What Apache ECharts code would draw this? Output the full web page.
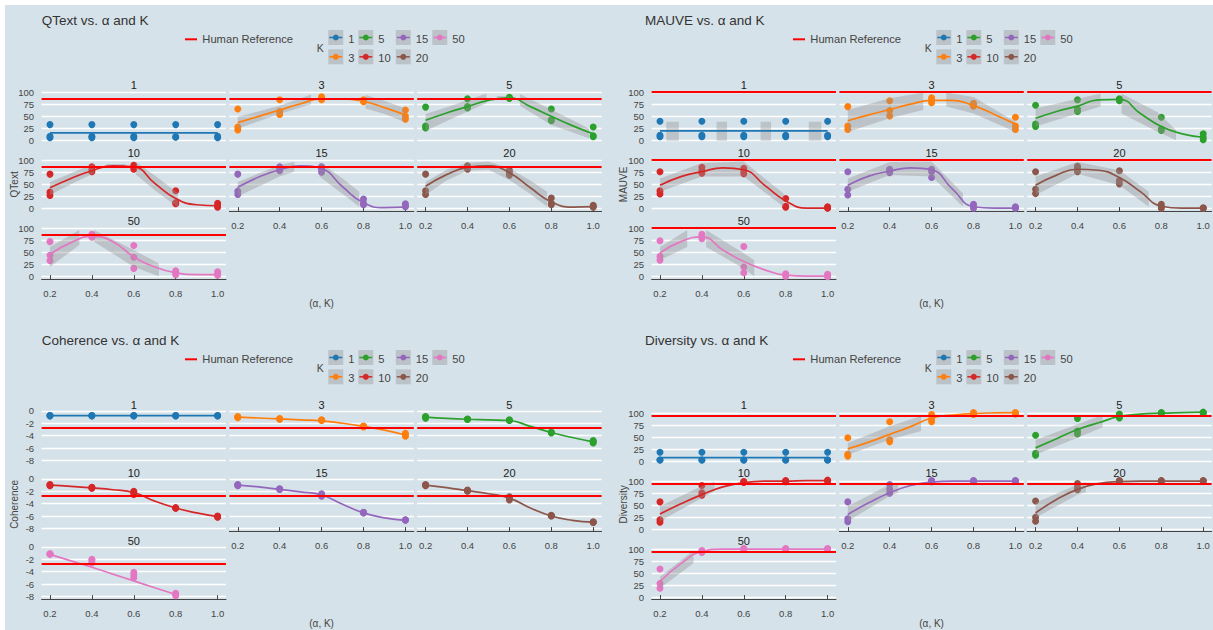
<!DOCTYPE html>
<html>
<head>
<meta charset="utf-8">
<script src="https://cdn.jsdelivr.net/npm/echarts@6/dist/echarts.min.js"></script>
<style>
  html, body { margin: 0; padding: 0; background: #ffffff; }
  #bg { position: absolute; left: 5px; top: 5px; width: 1208px; height: 625px; background: #d6e2e9; }
  #chart { position: absolute; left: 0; top: 0; width: 1213px; height: 630px; }
</style>
</head>
<body>
<div id="bg"></div>
<div id="chart"></div>
<script>
// ---- shared axes / levels ----
const alphaTicks = [0.2, 0.4, 0.6, 0.8, 1.0];
const curveAlphas = [0.2, 0.3, 0.4, 0.5, 0.6, 0.7, 0.8, 0.9, 1.0];
const kLevels = ['1', '3', '5', '10', '15', '20', '50'];
const kColors = ['#1f77b4', '#ff7f0e', '#2ca02c', '#d62728', '#9467bd', '#8c564b', '#e377c2'];
const percentTicks = [0, 25, 50, 75, 100];
const coherenceTicks = [-8, -6, -4, -2, 0];

// ---- QText ----
const qtextHumanRef = 87;
const qtextRange = [-5, 105];
// per K, per alpha: replicate scores
const qtextPoints = [
  [[33, 9, 6], [33, 9, 6], [33, 9, 6], [33, 8, 7], [33, 9, 6]],
  [[65, 28, 22], [84, 60, 54], [90, 87, 84], [84, 82, 80], [63, 50, 44]],
  [[69, 30, 26], [86, 70, 67], [89, 88, 87], [65, 43, 41], [28, 10, 8]],
  [[71, 34, 27], [86, 80, 76], [89, 85, 81], [37, 12, 10], [11, 6, 3]],
  [[71, 36, 29], [86, 83, 78], [86, 81, 75], [20, 11, 8], [10, 6, 4]],
  [[71, 37, 29], [88, 85, 81], [79, 74, 69], [22, 11, 8], [7, 5, 3]],
  [[72, 44, 33], [87, 84, 81], [64, 40, 17], [12, 8, 4], [10, 5, 3]]
];
// smoothed trend at curveAlphas
const qtextCurves = [
  [16, 16, 16, 16, 16, 16, 16, 16, 16],
  [37, 50, 63, 76, 86, 86, 81, 68, 53],
  [42, 57, 70, 83, 88, 70, 50, 31, 14],
  [43, 62, 78, 88, 86, 52, 21, 8, 6],
  [44, 65, 80, 88, 82, 45, 12, 2, 3],
  [46, 70, 85, 88, 74, 43, 14, 3, 4],
  [46, 70, 83, 72, 41, 20, 8, 4, 4]
];
// confidence ribbons: segments of [alpha, lower, upper]
const qtextBands = [
  [],
  [[[0.2, 25, 49], [0.4, 55, 72], [0.55, 75, 95]], [[0.81, 66, 94], [0.9, 55, 82], [1.0, 38, 66]]],
  [[[0.2, 20, 55], [0.35, 50, 76], [0.49, 77, 97]], [[0.54, 86, 92], [0.6, 86, 92]], [[0.65, 72, 96], [0.8, 32, 64], [0.98, 5, 25]]],
  [[[0.2, 28, 55], [0.3, 50, 73], [0.41, 73, 93]], [[0.47, 86, 92], [0.56, 86, 92]], [[0.61, 70, 96], [0.7, 38, 68], [0.81, 3, 32]]],
  [[[0.2, 25, 55], [0.4, 66, 90], [0.47, 76, 96]], [[0.59, 66, 96], [0.7, 30, 62], [0.78, 4, 35]]],
  [[[0.2, 28, 55], [0.3, 58, 80], [0.4, 78, 94], [0.5, 80, 97], [0.6, 59, 83], [0.7, 30, 58], [0.78, 4, 35]]],
  [[[0.2, 20, 61], [0.34, 65, 96]], [[0.41, 72, 96], [0.6, 20, 55], [0.72, 1, 27]]]
];

// ---- MAUVE ----
const mauveHumanRef = 100;
const mauveRange = [-5, 105];
const mauvePoints = [
  [[40, 11, 8], [40, 11, 8], [40, 11, 8], [40, 11, 8], [40, 11, 8]],
  [[70, 30, 23], [82, 62, 51], [88, 84, 78], [77, 74, 71], [48, 30, 23]],
  [[73, 34, 29], [84, 65, 60], [86, 84, 82], [48, 24, 21], [14, 7, 2]],
  [[76, 37, 30], [85, 79, 73], [83, 77, 72], [21, 5, 3], [4, 2, 1]],
  [[76, 40, 28], [81, 78, 74], [81, 76, 64], [9, 4, 1], [4, 2, 1]],
  [[76, 40, 31], [87, 83, 76], [78, 58, 51], [9, 4, 1], [2, 1, 1]],
  [[74, 42, 34], [87, 83, 78], [62, 20, 8], [6, 3, 1], [5, 2, 0]]
];
const mauveCurves = [
  [20, 20, 20, 20, 20, 20, 20, 20, 20],
  [41, 53, 64, 75, 83, 83, 72, 54, 34],
  [46, 60, 71, 84, 85, 56, 29, 14, 7],
  [48, 66, 76, 84, 80, 48, 16, 1, 1],
  [48, 67, 77, 84, 80, 40, 4, 1, 1],
  [48, 69, 81, 79, 64, 35, 5, 1, 1],
  [49, 72, 82, 55, 31, 14, 3, 1, 1]
];
const mauveBands = [
  [[[0.23, 0, 39], [0.29, 0, 39]], [[0.47, 0, 39], [0.52, 0, 39]], [[0.68, 0, 39], [0.73, 0, 39]], [[0.91, 0, 39], [0.97, 0, 39]]],
  [[[0.2, 18, 63], [0.4, 46, 87], [0.56, 63, 99]], [[0.67, 70, 99], [0.8, 56, 90], [1.0, 18, 39]]],
  [[[0.2, 29, 66], [0.51, 70, 97]], [[0.61, 56, 97], [0.78, 19, 59], [0.87, 1, 22]]],
  [[[0.2, 35, 62], [0.4, 66, 94], [0.6, 66, 97], [0.79, 4, 31]]],
  [[[0.2, 35, 62], [0.4, 69, 96], [0.6, 66, 97], [0.75, 4, 31]]],
  [[[0.2, 28, 66], [0.4, 72, 96], [0.6, 48, 79], [0.74, 4, 35]]],
  [[[0.2, 34, 61], [0.33, 61, 96]], [[0.42, 61, 96], [0.6, 17, 48], [0.65, 1, 34]]]
];

// ---- Coherence ----
const coherenceHumanRef = -2.8;
const coherenceRange = [-8.44, 0.21];
const coherencePoints = [
  [[-0.75, -0.78, -0.8], [-0.75, -0.78, -0.8], [-0.75, -0.78, -0.8], [-0.75, -0.78, -0.8], [-0.75, -0.78, -0.8]],
  [[-0.9, -1.0, -1.1], [-1.25, -1.3, -1.35], [-1.45, -1.5, -1.55], [-2.45, -2.5, -2.6], [-3.6, -3.9, -4.1]],
  [[-0.9, -1.0, -1.2], [-1.3, -1.35, -1.4], [-1.45, -1.5, -1.55], [-3.45, -3.5, -3.55], [-4.8, -5.0, -5.2]],
  [[-0.9, -1.0, -1.1], [-1.35, -1.45, -1.5], [-2.0, -2.2, -2.5], [-4.65, -4.7, -4.75], [-6.0, -6.1, -6.2]],
  [[-0.9, -1.0, -1.1], [-1.6, -1.65, -1.7], [-2.4, -2.6, -2.8], [-5.4, -5.45, -5.5], [-6.6, -6.65, -6.7]],
  [[-0.9, -1.0, -1.1], [-1.8, -1.9, -2.0], [-2.9, -3.1, -3.4], [-5.9, -5.95, -6.0], [-6.95, -7.0, -7.05]],
  [[-1.1, -1.15, -1.2], [-2.0, -2.3, -2.6], [-4.1, -4.5, -5.0], [-7.5, -7.7, -7.9], []]
];
const coherenceCurves = [
  [-0.78, -0.78, -0.78, -0.78, -0.78, -0.78, -0.78, -0.78, -0.78],
  [-1.0, -1.15, -1.3, -1.45, -1.6, -2.0, -2.5, -3.1, -3.9],
  [-1.0, -1.2, -1.35, -1.45, -1.55, -2.5, -3.5, -4.3, -5.0],
  [-1.0, -1.2, -1.45, -1.75, -2.2, -3.6, -4.7, -5.5, -6.1],
  [-1.0, -1.3, -1.7, -2.1, -2.6, -4.1, -5.5, -6.3, -6.7],
  [-1.0, -1.4, -1.9, -2.4, -3.1, -4.7, -6.0, -6.7, -7.0],
  [-1.2, -2.25, -3.3, -4.4, -5.5, -6.6, -7.7, null, null]
];
const coherenceBands = [[], [], [], [], [], [], []];

// ---- Diversity ----
const diversityHumanRef = 94.5;
const diversityRange = [-3.5, 107.3];
const diversityPoints = [
  [[19, 3, 3], [19, 3, 3], [19, 3, 3], [19, 3, 3], [19, 3, 3]],
  [[49, 15, 11], [82, 45, 41], [97, 88, 82], [101, 99, 97], [101, 100, 98]],
  [[54, 17, 13], [89, 63, 57], [98, 93, 90], [101, 100, 100], [102, 101, 100]],
  [[57, 20, 15], [91, 76, 71], [99, 98, 97], [101, 100, 99], [102, 101, 100]],
  [[57, 22, 16], [93, 83, 75], [101, 100, 99], [101, 100, 100], [101, 100, 100]],
  [[59, 25, 17], [95, 87, 82], [101, 100, 100], [101, 100, 100], [101, 100, 100]],
  [[59, 29, 19], [97, 95, 93], [101, 100, 100], [101, 100, 100], [101, 100, 100]]
];
const diversityCurves = [
  [8, 8, 8, 8, 8, 8, 8, 8, 8],
  [26, 40, 56, 72, 90, 96, 99, 100.5, 101],
  [28, 47, 66, 80, 93, 98, 100, 101, 102],
  [32, 53, 72, 88, 97, 100, 100, 101, 101],
  [31, 55, 76, 91, 98, 100, 100, 100, 100],
  [34, 62, 83, 95, 99, 100, 100, 100, 100],
  [33, 70, 95, 100, 100, 100, 100, 100, 100]
];
const diversityBands = [
  [],
  [[[0.2, 14, 38], [0.4, 45, 73], [0.55, 63, 94]]],
  [[[0.2, 14, 45], [0.4, 49, 77], [0.52, 71, 96]]],
  [[[0.2, 17, 48], [0.4, 65, 90], [0.46, 79, 99]]],
  [[[0.2, 17, 48], [0.4, 69, 93], [0.44, 76, 96]]],
  [[[0.2, 24, 55], [0.4, 72, 93], [0.44, 77, 98]]],
  [[[0.2, 19, 43], [0.36, 71, 97]]]
];

// ---- figure blocks (one per metric) ----
const metrics = [
  { title: 'QText vs. α and K', yTitle: 'QText', points: qtextPoints, curves: qtextCurves, bands: qtextBands, ref: qtextHumanRef, range: qtextRange, ticks: percentTicks, bx: 0, by: 0 },
  { title: 'MAUVE vs. α and K', yTitle: 'MAUVE', points: mauvePoints, curves: mauveCurves, bands: mauveBands, ref: mauveHumanRef, range: mauveRange, ticks: percentTicks, bx: 1, by: 0 },
  { title: 'Coherence vs. α and K', yTitle: 'Coherence', points: coherencePoints, curves: coherenceCurves, bands: coherenceBands, ref: coherenceHumanRef, range: coherenceRange, ticks: coherenceTicks, bx: 0, by: 1 },
  { title: 'Diversity vs. α and K', yTitle: 'Diversity', points: diversityPoints, curves: diversityCurves, bands: diversityBands, ref: diversityHumanRef, range: diversityRange, ticks: percentTicks, bx: 1, by: 1 }
];

// layout
const FONT = '"Liberation Sans", Arial, sans-serif';
const TEXT = '#444444';
const BAND_FILL = 'rgba(150,150,150,0.4)';
const FACET_W = 184.4, FACET_H = 53.5, COL_STEP = 187.8, ROW_STEP = 68;
const PLOT_X0 = [41.6, 651.6], PLOT_Y0 = [89.6, 409.6];
const TITLE_X = [41.7, 645], BLOCK_DY = 320, LEGEND_DX = 608;
const YTITLE_X = [14, 623.5];
const LEG_BOX_X = [328.3, 358.3, 395.8, 432.3], LEG_BOX_Y = [30, 49.3];
// legend slots (column-major, two rows)
const legendSlots = [[0, 0], [0, 1], [1, 0], [1, 1], [2, 0], [2, 1], [3, 0]];
// the lowest facet in each column carries the x axis
const xAxisFacets = [4, 5, 6];

const grids = [], xAxes = [], yAxes = [], series = [], graphics = [];

function txt(x, y, text, size, align, vAlign, color, extra) {
  return Object.assign({
    type: 'text', x: x, y: y, silent: true,
    style: { text: text, fill: color || TEXT, font: size + 'px ' + FONT, textAlign: align, textVerticalAlign: vAlign }
  }, extra || {});
}

metrics.forEach(function (mt, m) {
  const dy = mt.by * BLOCK_DY;
  // titles and axis titles
  graphics.push(txt(TITLE_X[mt.bx], 20.5 + dy, mt.title, 13.5, 'left', 'middle', '#333'));
  graphics.push(txt(YTITLE_X[mt.bx], 184.4 + dy, mt.yTitle, 10, 'center', 'middle', TEXT, { rotation: Math.PI / 2 }));
  graphics.push(txt(PLOT_X0[mt.bx] + COL_STEP + FACET_W / 2, 303.3 + dy, '(α, K)', 10, 'center', 'middle'));

  // legend: human reference
  const lx = mt.bx * LEGEND_DX;
  graphics.push({ type: 'line', silent: true, shape: { x1: 185 + lx, y1: 39.3 + dy, x2: 197 + lx, y2: 39.3 + dy }, style: { stroke: '#ff0000', lineWidth: 2 } });
  graphics.push(txt(202.3 + lx, 39.3 + dy, 'Human Reference', 11.2, 'left', 'middle'));
  // legend: K
  graphics.push(txt(316.7 + lx, 48 + dy, 'K', 10.5, 'left', 'middle'));
  kLevels.forEach(function (k, i) {
    const bx = LEG_BOX_X[legendSlots[i][0]] + lx, by = LEG_BOX_Y[legendSlots[i][1]] + dy;
    graphics.push({ type: 'rect', silent: true, shape: { x: bx, y: by, width: 15, height: 15 }, style: { fill: BAND_FILL } });
    graphics.push({ type: 'line', silent: true, shape: { x1: bx + 1, y1: by + 7.5, x2: bx + 14, y2: by + 7.5 }, style: { stroke: kColors[i], lineWidth: 1.5 } });
    graphics.push({ type: 'circle', silent: true, shape: { cx: bx + 7.5, cy: by + 7.5, r: 3 }, style: { fill: kColors[i] } });
    graphics.push(txt(bx + 20, by + 8.5, k, 11.2, 'left', 'middle'));
  });

  // facets
  kLevels.forEach(function (k, f) {
    const gi = m * 7 + f;
    const row = Math.floor(f / 3), col = f % 3;
    const left = PLOT_X0[mt.bx] + col * COL_STEP;
    const top = PLOT_Y0[mt.by] + row * ROW_STEP;
    const xOn = xAxisFacets.indexOf(f) >= 0;
    grids.push({ left: left, top: top, width: FACET_W, height: FACET_H, containLabel: false });
    graphics.push(txt(left + FACET_W / 2, top - 4.3, k, 11, 'center', 'middle', '#222'));

    xAxes.push({
      gridIndex: gi, type: 'value', min: 0.16, max: 1.04,
      splitLine: { show: false },
      axisLine: { show: xOn, onZero: false, lineStyle: { color: '#444', width: 1 } },
      axisTick: { show: xOn, inside: true, length: 4, customValues: alphaTicks, lineStyle: { color: '#444' } },
      axisLabel: { show: xOn, customValues: alphaTicks, formatter: function (v) { return v.toFixed(1); }, fontSize: 9.5, fontFamily: FONT, color: TEXT, margin: 9 }
    });
    yAxes.push({
      gridIndex: gi, type: 'value', min: mt.range[0], max: mt.range[1],
      axisLine: { show: false },
      axisTick: { show: false, customValues: mt.ticks },
      axisLabel: { show: col === 0, customValues: mt.ticks, fontSize: 9.5, fontFamily: FONT, color: TEXT, margin: 7.5 },
      splitLine: { show: true, lineStyle: { color: '#ffffff', width: 1.3 } }
    });

    // replicate points
    const pts = [];
    mt.points[f].forEach(function (vals, ai) {
      vals.forEach(function (v) { pts.push([alphaTicks[ai], v]); });
    });
    series.push({
      type: 'scatter', xAxisIndex: gi, yAxisIndex: gi, data: pts, symbolSize: 7, z: 2, silent: true,
      itemStyle: { color: kColors[f], opacity: 1 }
    });

    // confidence ribbons
    const segs = mt.bands[f];
    if (segs.length) {
      series.push({
        type: 'custom', xAxisIndex: gi, yAxisIndex: gi, z: 3, silent: true, clip: true,
        data: segs.map(function (s, i) { return [s[0][0], s[0][1], i]; }),
        renderItem: function (params, api) {
          const seg = segs[api.value(2)];
          const upper = seg.map(function (p) { return api.coord([p[0], p[2]]); });
          const lower = seg.slice().reverse().map(function (p) { return api.coord([p[0], p[1]]); });
          return { type: 'polygon', shape: { points: upper.concat(lower) }, style: { fill: BAND_FILL } };
        }
      });
    }

    // smoothed trend + human reference line
    const curve = [];
    mt.curves[f].forEach(function (v, i) { if (v !== null) curve.push([curveAlphas[i], v]); });
    series.push({
      type: 'line', xAxisIndex: gi, yAxisIndex: gi, data: curve, smooth: 0.5,
      showSymbol: false, z: 4, silent: true,
      lineStyle: { color: kColors[f], width: 1.7 },
      markLine: {
        silent: true, symbol: 'none', label: { show: false },
        lineStyle: { color: '#ff0000', width: 2, type: 'solid' },
        data: [{ yAxis: mt.ref }]
      }
    });
  });
});

const chart = echarts.init(document.getElementById('chart'), null, { renderer: 'svg' });
chart.setOption({
  backgroundColor: 'transparent',
  animation: false,
  grid: grids,
  xAxis: xAxes,
  yAxis: yAxes,
  series: series,
  graphic: { elements: graphics }
});
</script>
</body>
</html>
